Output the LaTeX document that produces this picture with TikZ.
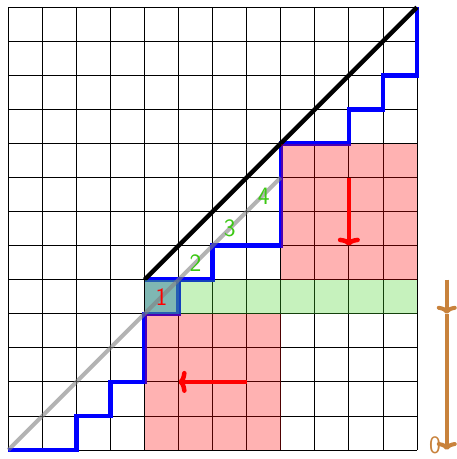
\documentclass[tikz,border=0pt]{standalone}
\usetikzlibrary{arrows.meta}
\definecolor{bandgreen}{RGB}{65,212,38}
\definecolor{cellteal}{RGB}{56,124,170}
\definecolor{labgreen}{RGB}{60,200,20}
\definecolor{arrbrown}{RGB}{200,130,60}
\begin{document}
\begin{tikzpicture}[x=34.05pt,y=34.05pt,
  gridline/.style={line width=0.8pt,black},
  lattice/.style={line width=4.5pt,blue,line join=miter},
  blackdiag/.style={line width=4.5pt,black},
  graydiag/.style={line width=4pt,gray,opacity=0.6},
  pinkzone/.style={fill=red,fill opacity=0.3},
  greenzone/.style={fill=bandgreen,fill opacity=0.3},
  tealzone/.style={fill=cellteal,fill opacity=0.5},
  redarrow/.style={line width=4.5pt,red,-{To[length=8pt,width=22pt]}},
  brownarrow/.style={line width=4pt,arrbrown,-{To[length=8pt,width=20pt]}},
  numlabel/.style={font=\sffamily\fontsize{25}{25}\selectfont,inner sep=0pt}]
\useasboundingbox (-0.244,-0.264) rectangle (13.148,13.214);
% grid
\draw[gridline,step=1] (0,0) grid (12,13);
% lattice path
\draw[lattice] (0,0) -- (2,0) -- (2,1) -- (3,1) -- (3,2) -- (4,2) -- (4,4)
  -- (5,4) -- (5,5) -- (6,5) -- (6,6) -- (8,6) -- (8,9) -- (10,9) -- (10,10)
  -- (11,10) -- (11,11) -- (12,11) -- (12,13);
\draw[lattice] (4,5) -- (5,5);
% black diagonal
\draw[blackdiag] (4,5) -- (12,13);
% shaded zones
\fill[pinkzone] (8,5) rectangle (12,9);
\fill[pinkzone] (4,0) rectangle (8,4);
\fill[greenzone] (4,4) rectangle (12,5);
\fill[tealzone] (4,4) rectangle (5,5);
% gray diagonal
\draw[graydiag] (0,0) -- (8,8);
% labels
\node[numlabel,red] (l1) at (4.5,4.5) {1};
\node[numlabel,labgreen] (l2) at (5.5,5.5) {2};
\node[numlabel,labgreen] (l3) at (6.5,6.5) {3};
\node[numlabel,labgreen] (l4) at (7.5,7.45) {4};
% red arrows
\coordinate (ua) at (10,8);
\coordinate (ub) at (10,6);
\draw[redarrow] (ua) -- (ub);
\coordinate (la) at (7,2);
\coordinate (lb) at (5,2);
\draw[redarrow] (la) -- (lb);
% brown arrows
\coordinate (b5) at (12.875,5);
\coordinate (b4) at (12.875,4);
\coordinate (b0) at (12.875,0);
\draw[brownarrow] (b5) -- (b4);
\draw[brownarrow] (b4) -- (b0);
\node[numlabel,arrbrown] (l0) at (12.53,0.13) {0};
\end{tikzpicture}
\end{document}
